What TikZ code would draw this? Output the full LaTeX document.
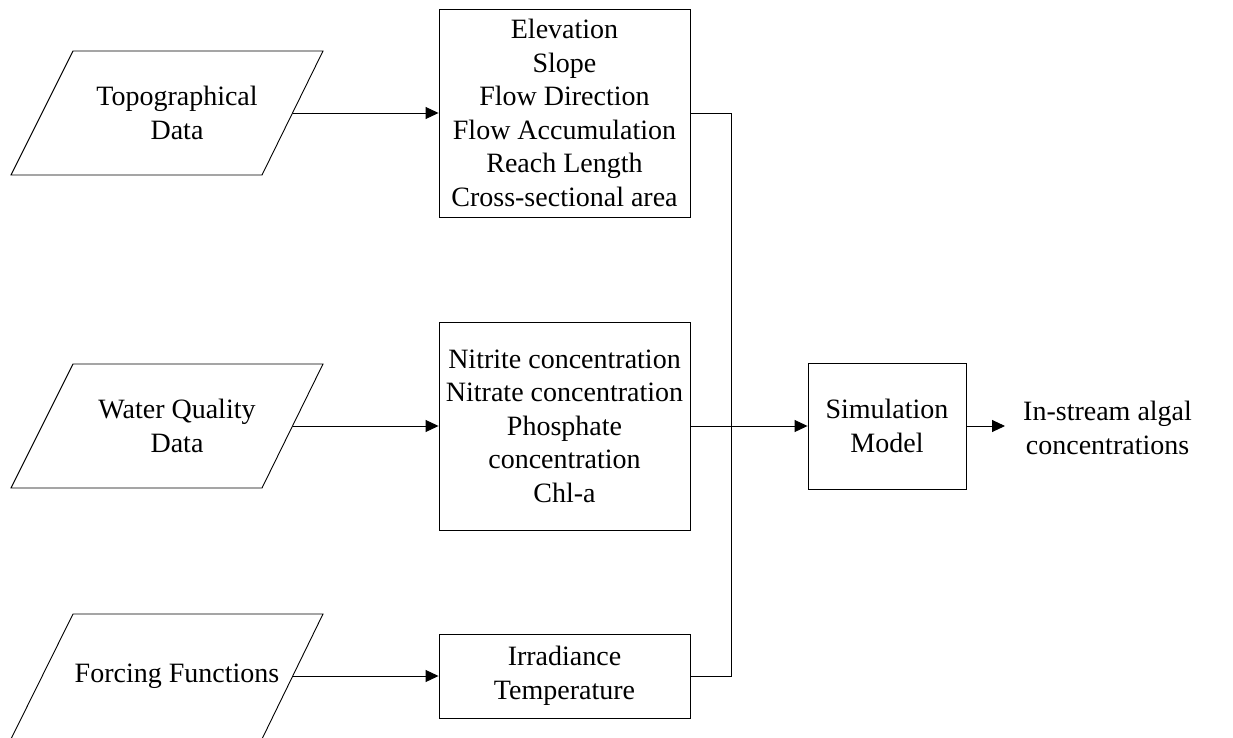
\documentclass[tikz,border=0pt]{standalone}
\usepackage{fontspec}
\setmainfont{Liberation Serif}
\usetikzlibrary{arrows.meta}
\begin{document}
\begin{tikzpicture}[x=1pt,y=-1pt,
  txt/.style={font=\fontsize{28}{33.5}\selectfont, align=center, inner sep=0pt},
  box/.style={txt, draw, line width=0.9pt, minimum width=251pt},
  conn/.style={line width=0.9pt},
  arr/.style={conn, -{Triangle[length=13pt,width=12pt]}}]
\useasboundingbox (0,0) rectangle (1233,738);
% input parallelograms
\draw[conn] (73,51) -- (323,51) -- (262,175) -- (11,175) -- cycle;
\node[txt] (topo) at (177,113) {Topographical\\Data};
\coordinate (topoR) at (292.5,113);
\draw[conn] (73,364) -- (323,364) -- (262,488) -- (11,488) -- cycle;
\node[txt] (water) at (177,426) {Water Quality\\Data};
\coordinate (waterR) at (292.5,426);
\draw[conn] (11,739) -- (73,614) -- (323,614) -- (262,739);
\node[txt] (forc) at (177,676) {Forcing Functions};
\coordinate (forcR) at (292.5,676);
% boxes
\node[box, minimum height=208pt] (b1) at (564.5,113)
  {Elevation\\Slope\\Flow Direction\\Flow Accumulation\\Reach Length\\Cross-sectional area};
\node[box, minimum height=208pt] (b2) at (564.5,426)
  {Nitrite concentration\\Nitrate concentration\\Phosphate\\concentration\\Chl-a};
\node[box, minimum height=84pt] (b3) at (564.5,676) {Irradiance\\Temperature};
\node[box, minimum width=158pt, minimum height=126pt] (sim) at (887,426) {Simulation\\Model};
\node[txt, anchor=west, inner xsep=18pt] (out) at (1005,428) {In-stream algal\\concentrations};
% connectors
\draw[arr] (topoR) -- (b1.west);
\draw[arr] (waterR) -- (b2.west);
\draw[arr] (forcR) -- (b3.west);
\coordinate (j1) at (731,113);
\coordinate (j3) at (731,676);
\draw[conn] (b1.east) -- (j1) -- (j3) -- (b3.east);
\draw[arr] (b2.east) -- (sim.west);
\draw[arr] (sim.east) -- (sim.east -| out.west);
\end{tikzpicture}
\end{document}
